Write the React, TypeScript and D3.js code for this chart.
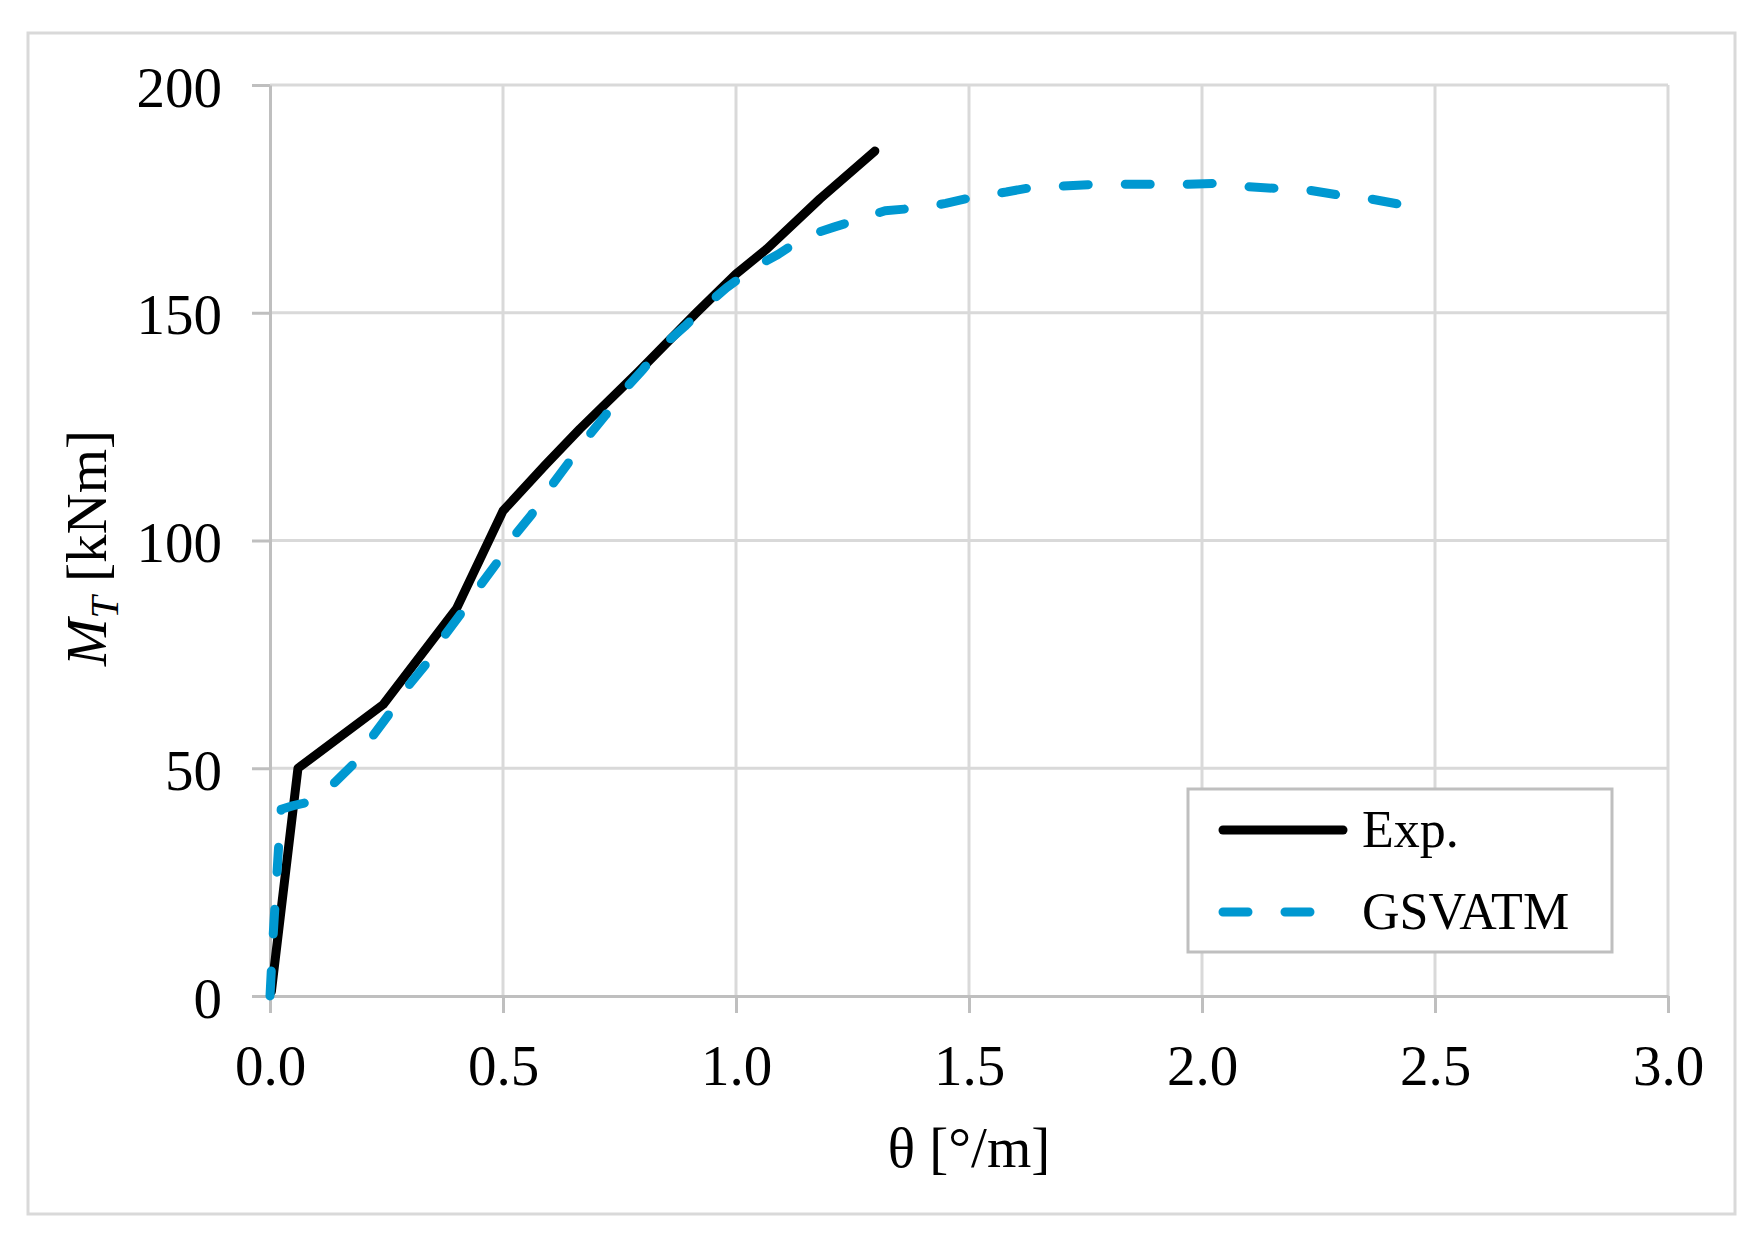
import React, { FC, useEffect, useRef } from "react"
import { select, scaleLinear, line, axisBottom, axisLeft } from "d3"

// experimental curve
const expTheta = [0.003, 0.06, 0.243, 0.4, 0.5, 0.59, 0.665, 0.79, 0.915, 1.0, 1.066, 1.18, 1.298]
const expMoment = [1, 50, 64, 85, 106.5, 116.5, 124.5, 137, 150, 158.5, 164, 175, 185.5]

// GSVATM prediction
const gsvTheta = [
  0, 0.006, 0.012, 0.018, 0.024, 0.05, 0.08, 0.11, 0.14, 0.18, 0.22, 0.26, 0.3, 0.34,
  0.37, 0.41, 0.45, 0.49, 0.52, 0.56, 0.6, 0.64, 0.68, 0.72, 0.76, 0.8, 0.84, 0.89,
  0.94, 0.98, 1.04, 1.09, 1.15, 1.21, 1.27, 1.32, 1.39, 1.45, 1.51, 1.58, 1.64, 1.7,
  1.77, 1.84, 1.9, 1.97, 2.03, 2.09, 2.16, 2.23, 2.29, 2.35, 2.42,
]
const gsvMoment = [
  0, 12, 22, 32, 41, 41.8, 42.5, 44, 47, 51, 57, 62.5, 68.5, 73.5,
  78.5, 84, 90, 95.5, 100.5, 105.5, 111.5, 117, 122.5, 127.5, 133, 137.5, 142.5, 147,
  152, 155.5, 160, 162.8, 166.8, 168.8, 170.7, 172.4, 173, 174, 175.4, 176.5, 177.6, 177.8,
  178.2, 178.2, 178.2, 178.2, 178.4, 177.7, 177.3, 176.9, 175.9, 175.2, 173.9,
]

const xTicks = [0, 0.5, 1, 1.5, 2, 2.5, 3]
const yTicks = [0, 50, 100, 150, 200]
const legendLabels = ["Exp.", "GSVATM"]

type P = [number, number]

const App: FC = () => {
  const svgRef = useRef<SVGSVGElement>(null)

  useEffect(() => {
    const width = 1764
    const height = 1243
    const plot = { left: 270, top: 85, right: 1668, bottom: 996 }
    const font = "'Liberation Serif', 'Times New Roman', serif"
    const gridColor = "#d9d9d9"
    const axisColor = "#bfbfbf"
    const blue = "#0098d1"

    const svg = select(svgRef.current)
    svg.selectAll("*").remove()
    svg.attr("width", width).attr("height", height)

    svg.append("rect").attr("width", width).attr("height", height).attr("fill", "#fff")

    // outer frame
    svg
      .append("rect")
      .attr("x", 28)
      .attr("y", 33)
      .attr("width", 1707)
      .attr("height", 1181)
      .attr("fill", "none")
      .attr("stroke", gridColor)
      .attr("stroke-width", 3)

    // scales
    const xScale = scaleLinear().domain([0, 3]).range([plot.left, plot.right])
    const yScale = scaleLinear().domain([0, 200]).range([plot.bottom, plot.top])

    // grid
    svg
      .append("g")
      .selectAll("line")
      .data(yTicks.slice(1))
      .join("line")
      .attr("x1", plot.left)
      .attr("x2", plot.right)
      .attr("y1", (d) => yScale(d))
      .attr("y2", (d) => yScale(d))
      .attr("stroke", gridColor)
      .attr("stroke-width", 3)
    svg
      .append("g")
      .selectAll("line")
      .data(xTicks.slice(1))
      .join("line")
      .attr("x1", (d) => xScale(d))
      .attr("x2", (d) => xScale(d))
      .attr("y1", plot.top)
      .attr("y2", plot.bottom)
      .attr("stroke", gridColor)
      .attr("stroke-width", 3)

    // x axis
    const xAxis = svg
      .append("g")
      .attr("transform", `translate(0, ${plot.bottom})`)
      .call(
        axisBottom(xScale)
          .tickValues(xTicks)
          .tickFormat((d) => (d as number).toFixed(1))
          .tickSize(17)
          .tickSizeOuter(0)
          .tickPadding(32),
      )

    // y axis
    const yAxis = svg
      .append("g")
      .attr("transform", `translate(${plot.left}, 0)`)
      .call(
        axisLeft(yScale)
          .tickValues(yTicks)
          .tickFormat((d) => String(d))
          .tickSize(18)
          .tickSizeOuter(0)
          .tickPadding(30),
      )

    for (const ax of [xAxis, yAxis]) {
      ax.select(".domain").attr("stroke", axisColor).attr("stroke-width", 3)
      ax.selectAll(".tick line").attr("stroke", axisColor).attr("stroke-width", 3)
      ax.selectAll(".tick text")
        .attr("fill", "#000")
        .style("font-family", font)
        .style("font-size", "57px")
    }
    yAxis.selectAll(".tick text").attr("dy", "0.37em")

    // series
    const lineGen = line<P>()
      .x((d) => xScale(d[0]))
      .y((d) => yScale(d[1]))

    const expData: P[] = expTheta.map((t, i) => [t, expMoment[i]])
    const gsvData: P[] = gsvTheta.map((t, i) => [t, gsvMoment[i]])

    svg
      .append("path")
      .attr("d", lineGen(expData))
      .attr("fill", "none")
      .attr("stroke", "#000")
      .attr("stroke-width", 9)
      .attr("stroke-linejoin", "round")
      .attr("stroke-linecap", "round")

    svg
      .append("path")
      .attr("d", lineGen(gsvData))
      .attr("fill", "none")
      .attr("stroke", blue)
      .attr("stroke-width", 9)
      .attr("stroke-linejoin", "round")
      .attr("stroke-linecap", "round")
      .attr("stroke-dasharray", "25 37")

    // axis titles
    svg
      .append("text")
      .attr("x", (plot.left + plot.right) / 2)
      .attr("y", 1167)
      .attr("text-anchor", "middle")
      .style("font-family", font)
      .style("font-size", "57px")
      .text("θ [°/m]")

    const yTitle = svg
      .append("text")
      .attr("transform", `translate(106, 548) rotate(-90)`)
      .attr("text-anchor", "middle")
      .style("font-family", font)
      .style("font-size", "57px")
    yTitle.append("tspan").attr("font-style", "italic").text("M")
    yTitle
      .append("tspan")
      .attr("font-style", "italic")
      .attr("font-size", "40px")
      .attr("dy", 12)
      .text("T")
    yTitle.append("tspan").attr("dy", -12).text(" [kNm]")

    // legend
    const legend = svg.append("g")
    legend
      .append("rect")
      .attr("x", 1188)
      .attr("y", 789)
      .attr("width", 424)
      .attr("height", 163)
      .attr("fill", "#fff")
      .attr("stroke", axisColor)
      .attr("stroke-width", 3)

    legendLabels.forEach((label, i) => {
      const cy = 830 + i * 82
      legend
        .append("line")
        .attr("x1", 1223)
        .attr("x2", i === 0 ? 1343 : 1311)
        .attr("y1", cy)
        .attr("y2", cy)
        .attr("stroke", i === 0 ? "#000" : blue)
        .attr("stroke-width", 9)
        .attr("stroke-linecap", "round")
        .attr("stroke-dasharray", i === 0 ? null : "25 37")
      legend
        .append("text")
        .attr("x", 1362)
        .attr("y", cy + 17)
        .style("font-family", font)
        .style("font-size", "52px")
        .text(label)
    })
  }, [])

  return <svg ref={svgRef} style={{ position: "absolute", left: 0, top: 0 }} />
}

export default App
